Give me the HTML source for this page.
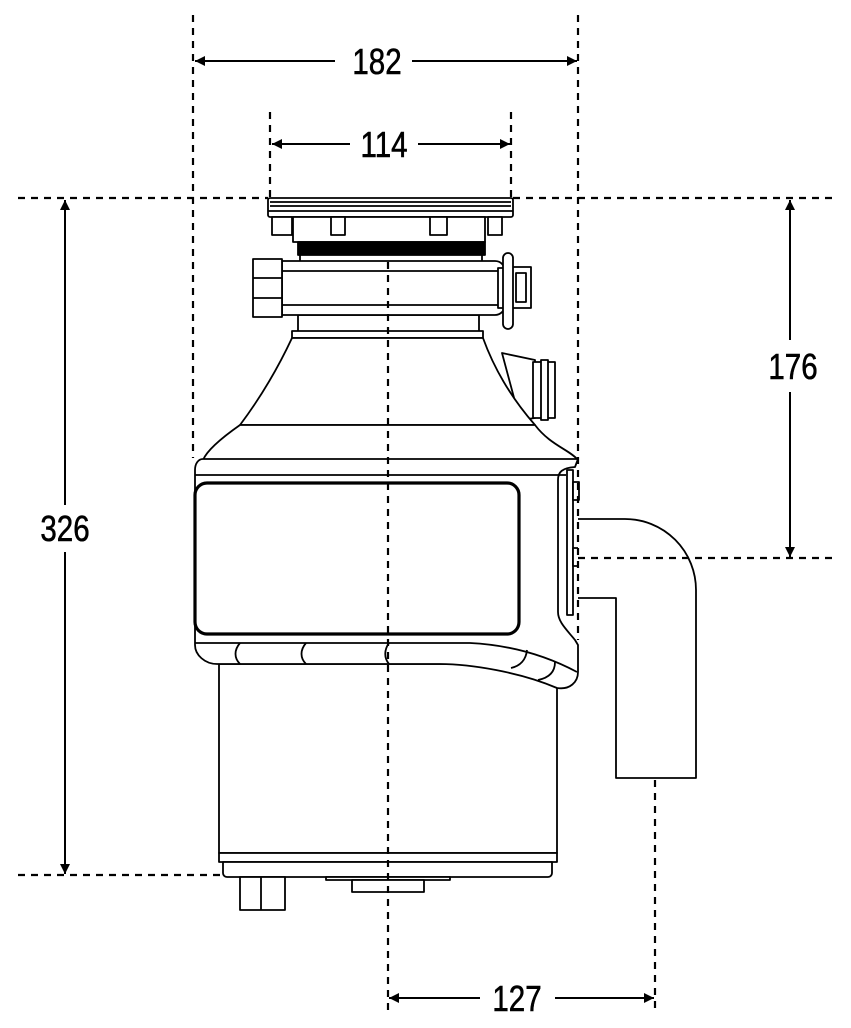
<!DOCTYPE html>
<html><head><meta charset="utf-8"><style>html,body{margin:0;padding:0;background:#fff}svg{display:block}</style></head>
<body>
<svg width="851" height="1028" viewBox="0 0 851 1028" xmlns="http://www.w3.org/2000/svg">
<defs>
<marker id="a" viewBox="0 0 10 10" refX="10" refY="5" markerWidth="5" markerHeight="5" orient="auto-start-reverse"><path d="M0,0 L10,5 L0,10z" fill="#000"/></marker>
</defs>
<g stroke="#000" stroke-width="2" fill="none">
<line x1="195" y1="61" x2="335" y2="61" marker-start="url(#a)"/>
<line x1="412" y1="61" x2="577" y2="61" marker-end="url(#a)"/>
<line x1="272" y1="144" x2="350" y2="144" marker-start="url(#a)"/>
<line x1="418" y1="144" x2="510" y2="144" marker-end="url(#a)"/>
<line x1="65" y1="200" x2="65" y2="505" marker-start="url(#a)"/>
<line x1="65" y1="552" x2="65" y2="874" marker-end="url(#a)"/>
<line x1="790" y1="200" x2="790" y2="340" marker-start="url(#a)"/>
<line x1="790" y1="392" x2="790" y2="557" marker-end="url(#a)"/>
<line x1="389" y1="998" x2="480" y2="998" marker-start="url(#a)"/>
<line x1="555" y1="998" x2="654" y2="998" marker-end="url(#a)"/>
</g>
<g font-family="Liberation Sans, sans-serif" font-size="36" fill="#000" stroke="#000" stroke-width="0.6" text-anchor="middle">
<text transform="translate(377,74) scale(0.82,1)">182</text>
<text transform="translate(384,157) scale(0.82,1)">114</text>
<text transform="translate(65,541) scale(0.82,1)">326</text>
<text transform="translate(793,379) scale(0.82,1)">176</text>
<text transform="translate(517,1011) scale(0.82,1)">127</text>
</g>
<g stroke="#000" stroke-width="1.8" fill="#fff" stroke-linejoin="round">
<rect x="268" y="198" width="245" height="19" rx="2"/>
<line x1="270" y1="202" x2="511" y2="202"/>
<line x1="270" y1="206" x2="511" y2="206"/>
<line x1="268" y1="211" x2="513" y2="211"/>
<rect x="293" y="217" width="192" height="25"/>
<rect x="272" y="217" width="20" height="18"/>
<rect x="331" y="217" width="14" height="18"/>
<rect x="430" y="217" width="17" height="18"/>
<rect x="488" y="217" width="14" height="18"/>
<rect x="298" y="242" width="187" height="13" fill="#000"/>
<rect x="300" y="255" width="182" height="7"/>
<rect x="298" y="315" width="181" height="17"/>
<rect x="292" y="331" width="191" height="7"/>
<path d="M282,261 H495 A10,10 0 0 1 505,271 V305 A10,10 0 0 1 495,315 H282 Z"/>
<line x1="282" y1="271" x2="500" y2="271"/>
<line x1="282" y1="305" x2="500" y2="305"/>
<rect x="253" y="259" width="29" height="58"/>
<line x1="253" y1="278" x2="282" y2="278"/>
<line x1="253" y1="298" x2="282" y2="298"/>
<rect x="512" y="267" width="19" height="41"/>
<rect x="516" y="273" width="10" height="29"/>
<rect x="498" y="268" width="8" height="40"/>
<rect x="503" y="253" width="10" height="76" rx="5"/>
<path d="M502,353 L535,360 L535,418 L520,420 Z"/>
<path d="M533,362 h8 v56 h-8 z M541,360 h7 v60 h-7z M548,362 h7 v56 h-7z"/>
<path d="M292,338 H483 Q500,385 535,425 H240 Q270,385 292,338 Z"/>
<path d="M240,425 H535 C550,445 570,450 578,460 H203 C208,448 230,432 240,425 Z"/>
<rect x="219" y="664" width="338" height="189"/>
<rect x="219" y="853" width="338" height="9"/>
<path d="M223,862 H552 V873 A4,4 0 0 1 548,877 H227 A4,4 0 0 1 223,873 Z"/>
<rect x="326" y="877" width="124" height="3"/>
<rect x="352" y="880" width="72" height="12"/>
<rect x="240" y="877" width="45" height="33"/>
<line x1="261" y1="877" x2="261" y2="910"/>
<path d="M203,459 H578 L575,467 C562,468 558,472 558,480 V612 C558,622 567,630 575,640 L578,645 V672 C578,682 570,690 557,688 C520,672 470,664 440,664 H217 C205,664 195,655 195,645 V470 C195,464 198,459 203,459 Z"/>
<line x1="195" y1="475" x2="566" y2="475"/>
<rect x="195" y="483" width="324" height="151" rx="12" stroke-width="3.2"/>
<path d="M195,643 H470 C510,645 545,655 577,672" fill="none"/>
<path d="M240,643 C234,650 234,658 240,664 M306,643 C300,650 300,658 306,664 M389,643 C384,650 384,658 389,664 M527,650 C526,660 520,666 511,668 M555,662 C555,673 548,678 538,680" fill="none"/>
<rect x="567" y="470" width="6" height="145"/>
<rect x="573" y="482" width="6" height="18"/>
<rect x="573" y="548" width="6" height="18"/>
<path d="M578,519 H625 A71,71 0 0 1 696,590 V778 H616 V598 H578" />
</g>
<g stroke="#000" stroke-width="2.2" fill="none" stroke-dasharray="7,6">
<line x1="193" y1="15" x2="193" y2="458"/>
<line x1="578" y1="15" x2="578" y2="640"/>
<line x1="270" y1="112" x2="270" y2="198"/>
<line x1="511" y1="112" x2="511" y2="198"/>
<line x1="388" y1="262" x2="388" y2="1012"/>
<line x1="655" y1="780" x2="655" y2="1012"/>
<line x1="18" y1="198" x2="268" y2="198"/>
<line x1="513" y1="198" x2="835" y2="198"/>
<line x1="578" y1="558" x2="835" y2="558"/>
<line x1="18" y1="875" x2="222" y2="875"/>
</g>
</svg>
</body></html>
